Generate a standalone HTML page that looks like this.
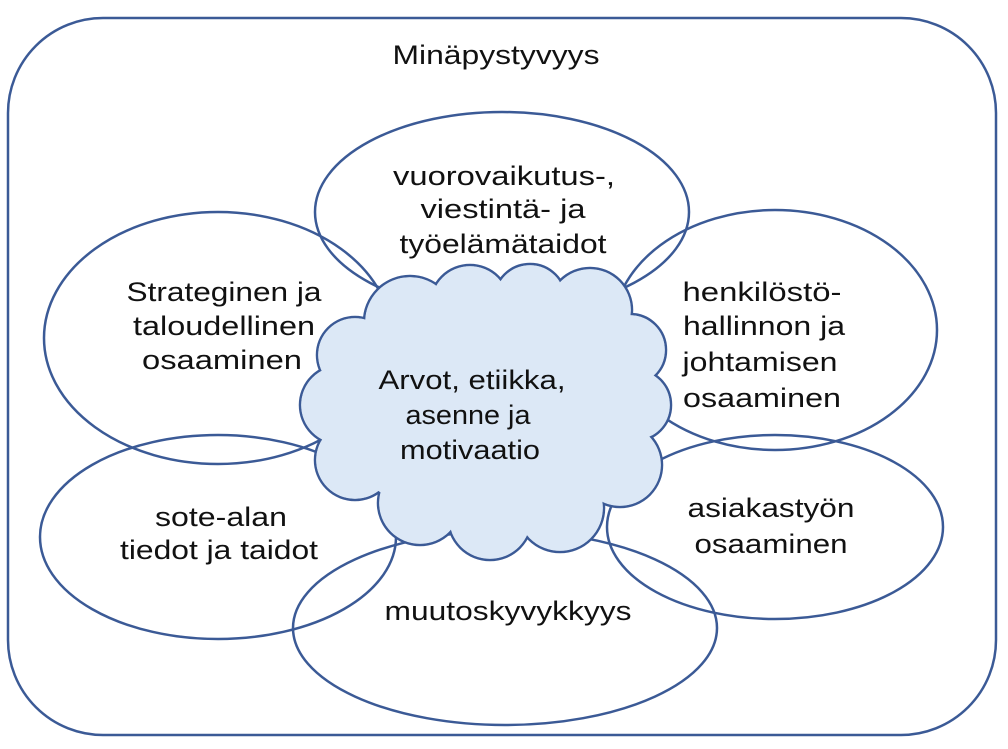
<!DOCTYPE html>
<html><head><meta charset="utf-8"><style>
html,body{margin:0;padding:0;background:#fff;}
svg{display:block;}
text{font-family:"Liberation Sans",sans-serif;font-size:27px;fill:#111;}
</style></head><body>
<svg width="1008" height="749" viewBox="0 0 1008 749" xmlns="http://www.w3.org/2000/svg">
<g fill="none" stroke="#3b5a96" stroke-width="2.5">
<rect x="8" y="18" width="988" height="717" rx="95" ry="95"/>
<ellipse cx="502" cy="212" rx="187" ry="100"/>
<ellipse cx="218" cy="338" rx="174" ry="126"/>
<ellipse cx="775" cy="330" rx="162" ry="120"/>
<ellipse cx="218" cy="537" rx="178" ry="102"/>
<ellipse cx="775" cy="527" rx="168" ry="92"/>
<ellipse cx="505" cy="628" rx="212" ry="97"/>
</g>
<g fill="#dce8f6" stroke="#3b5a96" stroke-width="2.5">
<circle cx="410" cy="322" r="46"/>
<circle cx="470" cy="305" r="40"/>
<circle cx="530" cy="300" r="36"/>
<circle cx="590" cy="310" r="42"/>
<circle cx="630" cy="350" r="36"/>
<circle cx="635" cy="405" r="36"/>
<circle cx="620" cy="465" r="42"/>
<circle cx="560" cy="508" r="44"/>
<circle cx="490" cy="518" r="42"/>
<circle cx="420" cy="503" r="42"/>
<circle cx="355" cy="460" r="40"/>
<circle cx="340" cy="405" r="40"/>
<circle cx="355" cy="355" r="38"/>
</g>
<g fill="#dce8f6" stroke="none">
<circle cx="410" cy="322" r="44.8"/>
<circle cx="470" cy="305" r="38.8"/>
<circle cx="530" cy="300" r="34.8"/>
<circle cx="590" cy="310" r="40.8"/>
<circle cx="630" cy="350" r="34.8"/>
<circle cx="635" cy="405" r="34.8"/>
<circle cx="620" cy="465" r="40.8"/>
<circle cx="560" cy="508" r="42.8"/>
<circle cx="490" cy="518" r="40.8"/>
<circle cx="420" cy="503" r="40.8"/>
<circle cx="355" cy="460" r="38.8"/>
<circle cx="340" cy="405" r="38.8"/>
<circle cx="355" cy="355" r="36.8"/>
<ellipse cx="485" cy="412" rx="150" ry="112"/>
</g>
<g text-anchor="middle">
<text x="496" y="64" textLength="207" lengthAdjust="spacingAndGlyphs">Minäpystyvyys</text>
<text x="504" y="185" textLength="222" lengthAdjust="spacingAndGlyphs">vuorovaikutus-,</text>
<text x="503" y="218" textLength="165" lengthAdjust="spacingAndGlyphs">viestintä- ja</text>
<text x="503" y="253" textLength="207" lengthAdjust="spacingAndGlyphs">työelämätaidot</text>
<text x="224" y="301" textLength="195" lengthAdjust="spacingAndGlyphs">Strateginen ja</text>
<text x="224" y="335" textLength="182" lengthAdjust="spacingAndGlyphs">taloudellinen</text>
<text x="222" y="369" textLength="160" lengthAdjust="spacingAndGlyphs">osaaminen</text>
<text x="472" y="389" textLength="187" lengthAdjust="spacingAndGlyphs">Arvot, etiikka,</text>
<text x="468" y="424" textLength="125" lengthAdjust="spacingAndGlyphs">asenne ja</text>
<text x="470" y="459" textLength="140" lengthAdjust="spacingAndGlyphs">motivaatio</text>
<text x="762" y="301" textLength="159" lengthAdjust="spacingAndGlyphs">henkilöstö-</text>
<text x="764" y="335" textLength="162" lengthAdjust="spacingAndGlyphs">hallinnon ja</text>
<text x="760" y="371" textLength="155" lengthAdjust="spacingAndGlyphs">johtamisen</text>
<text x="762" y="407" textLength="158" lengthAdjust="spacingAndGlyphs">osaaminen</text>
<text x="771" y="517" textLength="167" lengthAdjust="spacingAndGlyphs">asiakastyön</text>
<text x="771" y="553" textLength="153" lengthAdjust="spacingAndGlyphs">osaaminen</text>
<text x="221" y="526" textLength="132" lengthAdjust="spacingAndGlyphs">sote-alan</text>
<text x="219" y="559" textLength="198" lengthAdjust="spacingAndGlyphs">tiedot ja taidot</text>
<text x="508" y="620" textLength="247" lengthAdjust="spacingAndGlyphs">muutoskyvykkyys</text>
</g>
</svg>
</body></html>
